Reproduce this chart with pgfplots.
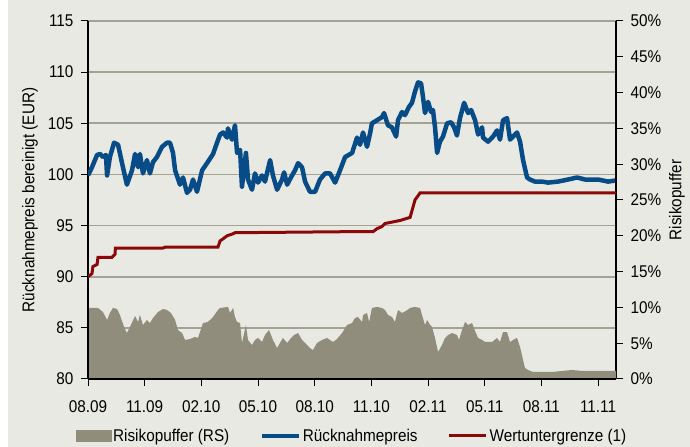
\documentclass[border=0pt]{standalone}
\usepackage{pgfplots}
\pgfplotsset{compat=1.18}
\usepackage{fontspec}
\setmainfont[FakeStretch=0.9]{Liberation Sans}
\definecolor{bg}{RGB}{233,233,228}
\definecolor{gridc}{RGB}{165,161,147}
\definecolor{areagray}{RGB}{145,141,125}
\definecolor{pblue}{RGB}{8,76,135}
\definecolor{pred}{RGB}{140,8,8}
\newcommand{\lbl}{\fontsize{17bp}{20bp}\selectfont}
\begin{document}
\begin{tikzpicture}[x=1bp,y=1bp]
\fill[white] (0,0) rectangle (690,447);
\fill[bg] (8,0) rectangle (690,447);
\pgfplotsset{
  common/.style={
    at={(88bp,68bp)}, anchor=south west, scale only axis,
    width=528bp, height=358bp, xmin=0, xmax=27.95,
    /pgf/number format/assume math mode=true,
    tick label style={font=\lbl}, label style={font=\lbl},
    major tick length=7bp, tick align=outside,
    tick style={black, line width=1bp},
    axis line style={black, line width=1.2bp, -},
  }
}
% grid
\begin{axis}[common, ymin=80, ymax=115, ytick={85,90,...,115}, xtick=\empty,
  yticklabels={}, ymajorgrids, axis line style={draw=none}, tick style={draw=none},
  major grid style={gridc, line width=1.6bp}]
\end{axis}
% right axis: Risikopuffer
\begin{axis}[common, ymin=0, ymax=50, ytick={0,5,...,50}, xtick=\empty,
  axis y line*=right, axis x line=none,
  yticklabel={\pgfmathprintnumber{\tick}\%},
  yticklabel style={xshift=4bp},
  ylabel={Risikopuffer},
  every axis y label/.style={at={(axis description cs:1.1155,0.5)}, anchor=center, rotate=90, font=\lbl}]
\addplot[fill=areagray, draw=none] coordinates {
(0,9.92) (0.53,9.92) (0.79,9.36) (1.01,8.24) (1.16,9.22) (1.32,9.92) (1.54,9.78) (1.69,8.94)
(1.91,7.26) (2.06,6.42) (2.22,7.26) (2.49,8.80) (2.65,7.96) (2.75,8.94) (2.91,7.54) (3.12,8.24)
(3.28,7.82) (3.44,8.52) (3.71,9.36) (3.97,9.78) (4.18,9.64) (4.39,9.22) (4.61,8.24) (4.76,6.84)
(4.98,6.42) (5.14,5.45) (5.40,5.59) (5.66,5.87) (5.82,5.73) (6.09,7.82) (6.35,7.96) (6.62,8.66)
(6.88,9.64) (6.99,9.92) (7.41,10.06) (7.52,9.22) (7.68,9.92) (7.78,8.66) (7.89,7.96) (8.05,7.82)
(8.15,5.03) (8.36,7.54) (8.47,5.45) (8.68,4.75) (8.84,5.45) (9.00,5.73) (9.21,5.17) (9.37,6.15)
(9.58,6.84) (9.79,5.45) (10.01,4.33) (10.16,5.03) (10.32,5.73) (10.54,5.03) (10.75,5.73) (10.91,6.15)
(11.12,6.42) (11.33,5.45) (11.49,5.03) (11.75,4.33) (11.91,4.05) (12.12,5.03) (12.39,5.45) (12.65,5.73)
(12.81,5.45) (12.97,5.17) (13.18,5.59) (13.45,6.42) (13.71,7.54) (13.98,7.82) (14.13,8.52) (14.29,8.66)
(14.51,7.96) (14.56,8.94) (14.77,9.22) (14.88,7.96) (15.03,9.92) (15.30,10.06) (15.56,9.92) (15.72,9.64)
(15.88,8.94) (16.09,8.66) (16.25,7.96) (16.41,9.64) (16.62,9.22) (16.83,9.50) (17.05,9.92) (17.31,10.06)
(17.58,9.92) (17.68,8.94) (17.84,7.54) (17.95,8.24) (18.11,7.54) (18.21,7.26) (18.37,5.73) (18.53,3.77)
(18.74,4.75) (18.90,5.73) (19.06,6.15) (19.27,6.42) (19.53,6.15) (19.64,5.45) (19.80,6.84) (19.96,7.96)
(20.12,7.54) (20.33,7.82) (20.49,6.70) (20.65,5.73) (20.86,5.45) (21.02,5.17) (21.39,5.17) (21.65,5.73)
(21.81,5.17) (21.97,6.56) (22.18,6.56) (22.34,5.17) (22.50,5.45) (22.71,5.73) (22.87,4.47) (23.03,2.65)
(23.13,1.54) (23.29,1.26) (23.56,0.98) (24.03,0.98) (24.56,0.98) (25.09,1.12) (25.62,1.26) (26.15,1.12)
(26.84,1.12) (27.53,1.12) (27.95,1.12)
} \closedcycle;
\end{axis}
% left axis: prices
\begin{axis}[common, ymin=80, ymax=115, ytick={80,85,...,115},
  xtick={0,3,...,27},
  xticklabels={08.09,11.09,02.10,05.10,08.10,11.10,02.11,05.11,08.11,11.11},
  xticklabel style={yshift=-11bp},
  yticklabel style={xshift=-4bp},
  axis y line*=left, axis x line*=bottom,
  ylabel={Rücknahmepreis bereinigt (EUR)},
  every axis y label/.style={at={(axis description cs:-0.110,0.5)}, anchor=center, rotate=90, font=\lbl},
  legend columns=3,
  legend style={at={(0.5,-0.159)}, anchor=center, draw=none, fill=none, font=\lbl,
    /tikz/every even column/.append style={column sep=28bp}},
  legend cell align=left]
\addlegendimage{legend image code/.code={\fill[areagray] (0bp,-5.5bp) rectangle (35bp,5.5bp);}}
\addlegendentry{Risikopuffer (RS)}
\addlegendimage{legend image code/.code={\draw[pblue, line width=4.5bp] (0bp,0bp) -- (37bp,0bp);}}
\addlegendentry{Rücknahmepreis}
\addlegendimage{legend image code/.code={\draw[pred, line width=3bp] (0bp,0bp) -- (37bp,0bp);}}
\addlegendentry{Wertuntergrenze (1)}
\addplot[forget plot, pred, line width=3bp] coordinates {
(0,90.0) (0.21,90.3) (0.26,91.0) (0.48,91.2) (0.53,91.9) (1.27,91.9) (1.43,92.2) (1.45,92.8)
(3.97,92.8) (4.08,92.9) (6.88,92.9) (6.99,93.5) (7.15,93.7) (7.36,94.0) (7.68,94.2) (7.78,94.3)
(13.61,94.4) (15.09,94.4) (15.30,94.7) (15.56,94.9) (15.72,95.2) (16.52,95.5) (17.05,95.8)
(17.31,97.5) (17.58,98.2) (27.95,98.2)
};
\addplot[forget plot, pblue, line width=4.5bp, line join=round] coordinates {
(0,99.9) (0.21,100.7) (0.48,101.9) (0.64,102.0) (0.79,101.7) (0.95,101.9) (1.01,99.9) (1.16,101.7)
(1.38,103.1) (1.59,102.9) (1.85,100.7) (2.06,99.0) (2.33,100.4) (2.49,102.0) (2.65,100.7) (2.75,102.0)
(2.91,100.1) (3.12,101.4) (3.28,100.1) (3.44,101.2) (3.65,101.7) (3.92,102.7) (4.18,103.1) (4.34,103.1)
(4.50,102.1) (4.61,100.4) (4.87,99.0) (5.03,99.7) (5.24,98.2) (5.40,98.5) (5.56,99.5) (5.77,98.3)
(6.04,100.4) (6.30,101.1) (6.62,102.0) (6.83,103.1) (6.99,103.9) (7.15,104.1) (7.36,103.6) (7.41,104.5)
(7.62,103.4) (7.78,104.8) (7.89,102.1) (8.05,102.4) (8.15,98.8) (8.36,102.1) (8.47,99.5) (8.68,98.5)
(8.84,100.1) (9.00,99.2) (9.21,99.9) (9.37,99.3) (9.64,101.4) (9.79,99.9) (10.01,98.5) (10.27,99.5)
(10.38,100.2) (10.54,99.0) (10.80,99.9) (10.96,100.4) (11.12,101.1) (11.33,100.7) (11.49,99.3) (11.75,98.3)
(12.02,98.3) (12.28,99.5) (12.55,100.1) (12.81,100.1) (13.08,99.2) (13.34,100.4) (13.61,101.7) (13.98,102.1)
(14.24,103.6) (14.40,102.9) (14.56,104.1) (14.77,102.7) (14.93,104.0) (15.03,105.0) (15.30,105.3) (15.56,105.6)
(15.67,106.0) (15.88,104.8) (16.09,104.6) (16.31,103.7) (16.41,105.3) (16.62,106.1) (16.78,105.8) (16.99,106.6)
(17.15,107.0) (17.31,108.1) (17.47,109.0) (17.63,108.9) (17.73,107.6) (17.84,106.0) (18.00,107.1) (18.16,106.1)
(18.26,106.3) (18.37,104.6) (18.48,102.1) (18.63,103.2) (18.79,103.7) (19.01,105.0) (19.22,105.1) (19.38,104.6)
(19.53,103.8) (19.69,105.5) (19.91,107.0) (20.12,106.0) (20.28,106.3) (20.49,105.3) (20.65,103.9) (20.86,104.6)
(20.91,103.6) (21.18,103.2) (21.44,103.7) (21.65,104.3) (21.81,103.4) (21.97,105.3) (22.18,105.5) (22.34,103.4)
(22.50,103.7) (22.71,104.1) (22.87,103.2) (23.03,101.4) (23.24,99.7) (23.40,99.5) (23.66,99.3) (24.03,99.3)
(24.35,99.2) (24.88,99.3) (25.41,99.5) (25.89,99.7) (26.31,99.5) (27.00,99.5) (27.53,99.3) (27.90,99.4)
};
\end{axis}
\pgfresetboundingbox
\useasboundingbox (0,0) rectangle (690,447);
\end{tikzpicture}
\end{document}
